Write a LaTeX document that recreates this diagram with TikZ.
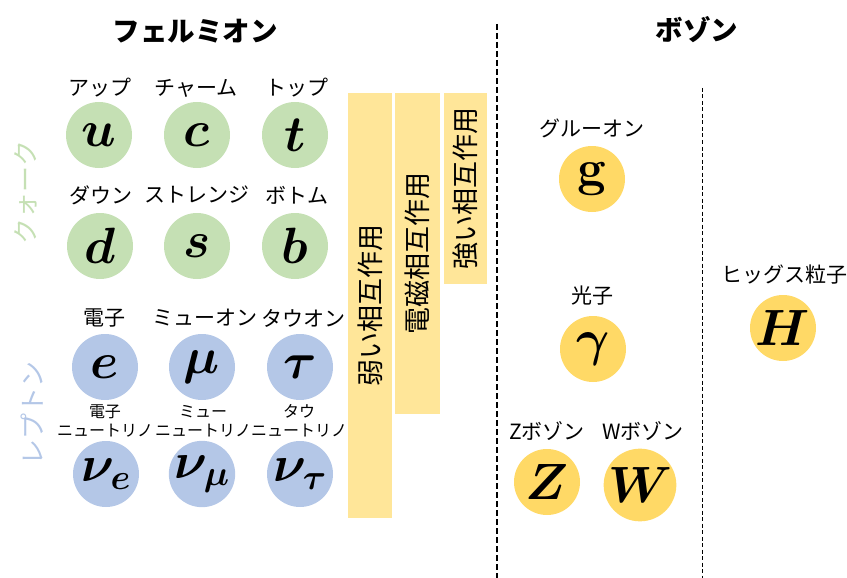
\documentclass[tikz,border=0pt]{standalone}
\usepackage{fix-cm}
\usepackage[no-math]{fontspec}
\setmainfont{Noto Sans CJK JP}
\definecolor{qgreen}{HTML}{C5E0B4}
\definecolor{lblue}{HTML}{B4C7E7}
\definecolor{bgold}{HTML}{FFD966}
\definecolor{barY}{HTML}{FFE699}
\begin{document}
\begin{tikzpicture}[x=1pt,y=-1pt,
  particle/.style={circle,minimum size=66pt,inner sep=0pt,font=\fontsize{51}{51}\selectfont\boldmath},
  quark/.style={particle,fill=qgreen},
  lepton/.style={particle,fill=lblue},
  boson/.style={particle,fill=bgold},
  lbl/.style={font=\fontsize{21}{23}\selectfont,inner sep=0pt},
  slbl/.style={font=\fontsize{16}{19}\selectfont,inner sep=0pt,align=center},
  ttl/.style={font=\fontsize{27.5}{30}\selectfont\bfseries,inner sep=0pt},
  barbox/.style={fill=barY,inner sep=0pt},
  bartext/.style={font=\fontsize{27}{30}\selectfont,rotate=90,inner sep=0pt},
  sidetext/.style={font=\fontsize{26}{28}\selectfont,rotate=90,inner sep=0pt},
  septhick/.style={line width=2.2pt,dash pattern=on 6pt off 3pt},
  septhin/.style={line width=1pt,dash pattern=on 4pt off 2.5pt}
]
\useasboundingbox (0,0) rectangle (847,578);

% titles
\node[ttl] (fermion) at (195,31) {フェルミオン};
\node[ttl] (boson) at (697,30) {ボゾン};

% side labels
\node[sidetext,text=qgreen] (quarklbl) at (26,192) {クォーク};
\node[sidetext,text=lblue] (leptonlbl) at (32,413) {レプトン};

% quarks
\node[lbl] (lu) at (100,88) {アップ};
\node[lbl] (lc) at (196,88) {チャーム};
\node[lbl] (lt) at (297,88) {トップ};
\node[quark] (u) at (99,135) {$u$};
\node[quark] (c) at (197,135) {$c$};
\node[quark] (t) at (295,135) {$t$};
\node[lbl] (ld) at (101,195) {ダウン};
\node[lbl] (ls) at (197,195) {ストレンジ};
\node[lbl] (lb) at (297,195) {ボトム};
\node[quark] (d) at (100,246) {$d$};
\node[quark] (s) at (197,246) {$s$};
\node[quark] (b) at (295,246) {$b$};

% leptons
\node[lbl] (le) at (104,318) {電子};
\node[lbl] (lmu) at (205,318) {ミューオン};
\node[lbl] (ltau) at (303,318) {タウオン};
\node[lepton] (e) at (105,367) {$e$};
\node[lepton] (mu) at (202,367) {$\mu$};
\node[lepton] (tau) at (300,367) {$\tau$};
\node[slbl] (lnue) at (105,421) {電子\\ニュートリノ};
\node[slbl] (lnumu) at (203,421) {ミュー\\ニュートリノ};
\node[slbl] (lnutau) at (299,421) {タウ\\ニュートリノ};
\node[lepton] (nue) at (106,474) {$\nu_e$};
\node[lepton] (numu) at (202,474) {$\nu_\mu$};
\node[lepton] (nutau) at (300,474) {$\nu_\tau$};

% interaction bars
\node[barbox,minimum width=44pt,minimum height=425pt] (weak) at (370,305.5) {};
\node[bartext] at (weak) {弱い相互作用};
\node[barbox,minimum width=45pt,minimum height=321pt] (em) at (417.5,253.5) {};
\node[bartext] at (em) {電磁相互作用};
\node[barbox,minimum width=43pt,minimum height=191pt] (strong) at (465.5,188.5) {};
\node[bartext] at (strong) {強い相互作用};

% separators
\coordinate (s1top) at (497,24);
\coordinate (s1bot) at (497,578);
\coordinate (s2top) at (702,88);
\coordinate (s2bot) at (702,578);
\draw[septhick] (s1top) -- (s1bot);
\draw[septhin] (s2top) -- (s2bot);

% bosons
\node[lbl] (lg) at (592,128) {グルーオン};
\node[boson] (g) at (592,179) {$\mathbf{g}$};
\node[lbl] (lgamma) at (592,296) {光子};
\node[boson] (gamma) at (593,349) {$\gamma$};
\node[lbl] (lZ) at (547,431) {Zボゾン};
\node[lbl] (lW) at (643,431) {Wボゾン};
\node[boson] (Z) at (547,482) {$Z$};
\node[boson] (W) at (640,485) {$W$};
\node[lbl] (lH) at (784,275) {ヒッグス粒子};
\node[boson] (H) at (783,328) {$H$};
\end{tikzpicture}
\end{document}
